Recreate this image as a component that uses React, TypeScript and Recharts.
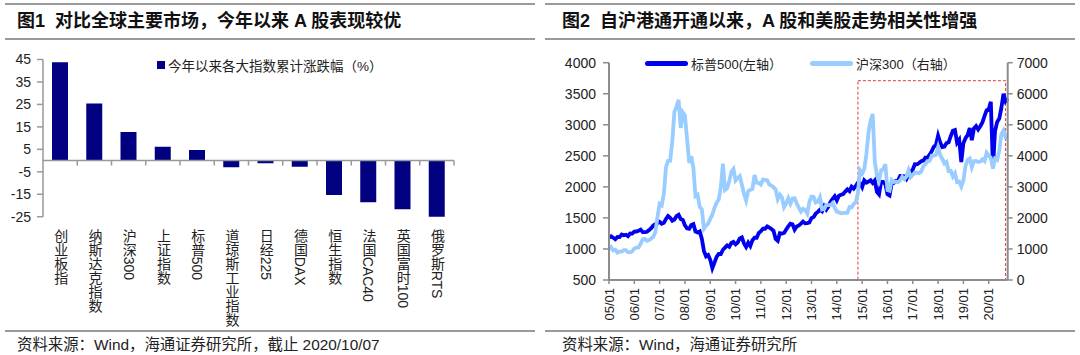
import React from 'react';
import {
  BarChart, Bar, XAxis, YAxis, ReferenceLine, Legend,
  LineChart, Line, ReferenceArea,
} from 'recharts';

const FONT = '"Liberation Sans", Arial, "Noto Sans CJK SC", sans-serif';

// 图1
const indexNames = [
  '创业板指', '纳斯达克指数', '沪深300', '上证指数', '标普500', '道琼斯工业指数',
  '日经225', '德国DAX', '恒生指数', '法国CAC40', '英国富时100', '俄罗斯RTS',
];
const ytdChange = [43.8, 25.4, 12.7, 6.2, 4.7, -3.0, -1.2, -2.8, -15.3, -18.6, -21.7, -25.5];
const ytdTicks = [-25, -15, -5, 5, 15, 25, 35, 45];

// 图2
const years = ['05', '06', '07', '08', '09', '10', '11', '12', '13', '14', '15', '16', '17', '18', '19', '20'];
const spx = [
  1181, 1204, 1181, 1157, 1192, 1191, 1234, 1220, 1229, 1207, 1249, 1248,
  1280, 1281, 1295, 1311, 1270, 1270, 1277, 1304, 1336, 1378, 1401, 1418,
  1438, 1407, 1421, 1482, 1531, 1503, 1455, 1474, 1527, 1549, 1481, 1468,
  1379, 1331, 1323, 1386, 1400, 1280, 1267, 1283, 1166, 969, 880, 903,
  826, 690, 780, 873, 919, 919, 987, 1021, 1057, 1036, 1096, 1115,
  1074, 1104, 1169, 1187, 1089, 1031, 1102, 1049, 1141, 1183, 1181, 1258,
  1286, 1327, 1326, 1364, 1345, 1321, 1292, 1160, 1131, 1253, 1247, 1258,
  1312, 1366, 1408, 1398, 1310, 1362, 1379, 1407, 1441, 1412, 1416, 1426,
  1498, 1515, 1569, 1598, 1631, 1606, 1686, 1633, 1682, 1757, 1806, 1848,
  1783, 1859, 1872, 1884, 1924, 1960, 1931, 2003, 1972, 2018, 2068, 2059,
  1995, 2105, 2068, 2086, 2107, 2063, 2104, 1920, 1880, 2079, 2080, 2044,
  1880, 1860, 2060, 2065, 2097, 2099, 2174, 2171, 2168, 2126, 2199, 2239,
  2279, 2364, 2363, 2384, 2412, 2423, 2470, 2472, 2519, 2575, 2648, 2674,
  2824, 2714, 2641, 2648, 2705, 2718, 2816, 2902, 2914, 2712, 2760, 2400,
  2704, 2784, 2834, 2946, 2752, 2942, 2980, 2926, 2977, 3038, 3141, 3231,
  3250, 3370, 2300, 2900, 3044, 3100, 3271, 3500, 3380, 3420,
];
const csi300 = [
  982, 1060, 952, 973, 880, 915, 915, 963, 961, 899, 889, 923,
  1015, 1041, 1048, 1167, 1308, 1328, 1264, 1289, 1340, 1394, 1550, 2041,
  2450, 2400, 2781, 3632, 3841, 3846, 4471, 5407, 5595, 5800, 4900, 5400,
  5300, 4555, 3773, 3994, 3605, 2705, 2750, 2356, 2276, 1650, 1750, 1817,
  1968, 2109, 2321, 2485, 2595, 2973, 3750, 2896, 2950, 3185, 3488, 3576,
  3205, 3283, 3346, 3067, 2776, 2564, 2868, 2903, 2935, 3379, 3136, 3128,
  3076, 3239, 3223, 3212, 3075, 3044, 2988, 2911, 2605, 2748, 2654, 2346,
  2464, 2634, 2455, 2627, 2632, 2462, 2333, 2204, 2293, 2254, 2140, 2523,
  2687, 2673, 2495, 2518, 2664, 2273, 2285, 2416, 2409, 2409, 2478, 2331,
  2202, 2179, 2146, 2159, 2160, 2165, 2350, 2338, 2450, 2508, 2809, 3533,
  3434, 3572, 4051, 4750, 5123, 5350, 3816, 3366, 3202, 3534, 3566, 3731,
  2900, 2877, 3218, 3156, 3169, 3154, 3203, 3327, 3253, 3336, 3538, 3310,
  3387, 3452, 3456, 3439, 3493, 3666, 3737, 3822, 3837, 4006, 4006, 4031,
  4275, 4023, 3899, 3756, 3802, 3510, 3517, 3334, 3439, 3153, 3173, 3011,
  3202, 3670, 3873, 3913, 3630, 3826, 3836, 3799, 3815, 3886, 3829, 4097,
  4003, 3940, 3600, 3912, 3868, 4164, 4696, 4816, 4587, 4600,
];
const leftTicks = [500, 1000, 1500, 2000, 2500, 3000, 3500, 4000];
const rightTicks = [0, 1000, 2000, 3000, 4000, 5000, 6000, 7000];

// layout of chart 1 plot box
const P1 = { top: 59.5, bottom: 216.7, left: 43, right: 454, h: 330 };
const Y1 = [-25, 45];

const barData = indexNames.map((name, i) => ({ name, value: ytdChange[i] }));

const months: string[] = [];
years.forEach((y) => {
  for (let m = 1; m <= 12; m++) months.push(`${y}/${String(m).padStart(2, '0')}`);
});
const lineData = spx.map((v, i) => ({ month: months[i], spx: v, csi: csi300[i] }));
const yearTicks = years.map((y) => `${y}/01`);

function IndexTick(props: any) {
  const { x, y, payload } = props;
  const band = (P1.right - P1.left) / indexNames.length;
  const zeroY = P1.bottom - ((0 - Y1[0]) / (Y1[1] - Y1[0])) * (P1.bottom - P1.top);
  return (
    <g>
      <line x1={x + band / 2} x2={x + band / 2} y1={zeroY} y2={zeroY + 5} stroke="#999" strokeWidth={1.5} />
      <text x={x} y={y} fontSize={14} fill="#222" fontFamily={FONT} style={{ writingMode: 'vertical-rl' }}>
        {payload.value}
      </text>
    </g>
  );
}

function YearTick(props: any) {
  const { x, y, payload } = props;
  return (
    <text x={x} y={y} transform={`rotate(-90 ${x} ${y})`} textAnchor="end" dominantBaseline="central"
      fontSize={13} fill="#222" fontFamily={FONT}>
      {payload.value}
    </text>
  );
}

function BarLegend({ payload }: any) {
  return (
    <div style={{ display: 'flex', alignItems: 'center', fontSize: 13.5, color: '#222', fontFamily: FONT }}>
      {(payload || []).map((p: any) => (
        <span key={p.value} style={{ display: 'flex', alignItems: 'center' }}>
          <span style={{ width: 8, height: 8, background: p.color, marginRight: 3 }} />
          {p.value}
        </span>
      ))}
    </div>
  );
}

function LineLegend({ payload }: any) {
  return (
    <div style={{ display: 'flex', alignItems: 'center', fontSize: 13, color: '#222', fontFamily: FONT }}>
      {(payload || []).map((p: any) => (
        <span key={p.value} style={{ display: 'flex', alignItems: 'center', marginRight: 28 }}>
          <span style={{ width: 43, height: 5, borderRadius: 3, background: p.color, marginRight: 3 }} />
          {p.value}
        </span>
      ))}
    </div>
  );
}

const rule = (left: number, top: number, width: number) => (
  <div style={{ position: 'absolute', left, top, width, height: 1.5, background: '#9a9a9a' }} />
);

const titleStyle: React.CSSProperties = {
  position: 'absolute', top: 10, fontSize: 18, fontWeight: 'bold', lineHeight: '23px',
  color: '#111', whiteSpace: 'pre',
};
const sourceStyle: React.CSSProperties = {
  position: 'absolute', top: 335, fontSize: 15.4, lineHeight: '20px', color: '#222', whiteSpace: 'pre',
};

export default function App() {
  return (
    <div style={{ position: 'absolute', left: 0, top: 0, width: 1080, height: 355, background: '#fff', fontFamily: FONT, overflow: 'hidden' }}>
      {rule(5, 3, 530)}
      {rule(5, 38, 530)}
      {rule(5, 330, 530)}
      {rule(545, 3, 530)}
      {rule(545, 38, 530)}
      {rule(545, 330, 530)}
      <div style={{ ...titleStyle, left: 17 }}>图1  对比全球主要市场，今年以来 A 股表现较优</div>
      <div style={{ ...titleStyle, left: 562 }}>图2  自沪港通开通以来，A 股和美股走势相关性增强</div>
      <div style={{ ...sourceStyle, left: 17 }}>资料来源：Wind，海通证券研究所，截止 2020/10/07</div>
      <div style={{ ...sourceStyle, left: 562 }}>资料来源：Wind，海通证券研究所</div>

      <div style={{ position: 'absolute', left: 0, top: 0 }}>
        <BarChart width={540} height={P1.h} data={barData}
          margin={{ top: P1.top, right: 540 - P1.right, bottom: 0, left: 0 }}>
          <XAxis dataKey="name" interval={0} axisLine={false} tickLine={false} tickSize={0} tickMargin={12}
            height={P1.h - P1.bottom} tick={<IndexTick />} />
          <YAxis domain={Y1} ticks={ytdTicks} interval={0} allowDataOverflow width={P1.left}
            axisLine={{ stroke: '#999', strokeWidth: 1.5 }} tickLine={{ stroke: '#999', strokeWidth: 1.5 }}
            tickSize={6} tickMargin={6} tick={{ fontSize: 14, fill: '#222', fontFamily: FONT }} />
          <ReferenceLine y={0} stroke="#999" strokeWidth={1.5} />
          <Legend layout="horizontal" verticalAlign="middle" align="center"
            wrapperStyle={{ top: 55, left: 157, width: 'auto' }} content={<BarLegend />} />
          <Bar dataKey="value" name="今年以来各大指数累计涨跌幅（%）" fill="#000080" barSize={16} isAnimationActive={false} />
        </BarChart>
      </div>

      <div style={{ position: 'absolute', left: 540, top: 0 }}>
        <LineChart width={540} height={330} data={lineData}
          margin={{ top: 62.7, right: 0, bottom: 0, left: 0 }}>
          <XAxis dataKey="month" ticks={yearTicks} interval={0} height={50}
            axisLine={{ stroke: '#8c8c8c', strokeWidth: 2 }} tickLine={{ stroke: '#8c8c8c', strokeWidth: 1.5 }}
            tickSize={4} tickMargin={4} tick={<YearTick />} />
          <YAxis yAxisId="left" domain={[500, 4000]} ticks={leftTicks} interval={0} width={69}
            axisLine={{ stroke: '#8c8c8c', strokeWidth: 2 }} tickLine={{ stroke: '#8c8c8c', strokeWidth: 1.5 }}
            tickSize={6} tickMargin={7} tick={{ fontSize: 14, fill: '#222', fontFamily: FONT }} />
          <YAxis yAxisId="right" orientation="right" domain={[0, 7000]} ticks={rightTicks} interval={0} width={72.3}
            axisLine={{ stroke: '#8c8c8c', strokeWidth: 2 }} tickLine={{ stroke: '#8c8c8c', strokeWidth: 1.5 }}
            tickSize={5} tickMargin={4} tick={{ fontSize: 14, fill: '#222', fontFamily: FONT }} />
          <Legend layout="horizontal" verticalAlign="middle" align="center"
            wrapperStyle={{ top: 54, left: 105, width: 'auto' }} content={<LineLegend />} />
          <Line yAxisId="left" dataKey="spx" name="标普500(左轴）" stroke="#0000EE" strokeWidth={3.8}
            dot={false} isAnimationActive={false} />
          <Line yAxisId="right" dataKey="csi" name="沪深300（右轴）" stroke="#99CCFF" strokeWidth={3.8}
            dot={false} isAnimationActive={false} />
          <ReferenceArea yAxisId="left" x1="14/11" x2="20/09" y1={500} y2={3710} fill="none"
            stroke="#e03c3c" strokeWidth={1} strokeDasharray="3 2" ifOverflow="visible" />
        </LineChart>
      </div>
    </div>
  );
}
